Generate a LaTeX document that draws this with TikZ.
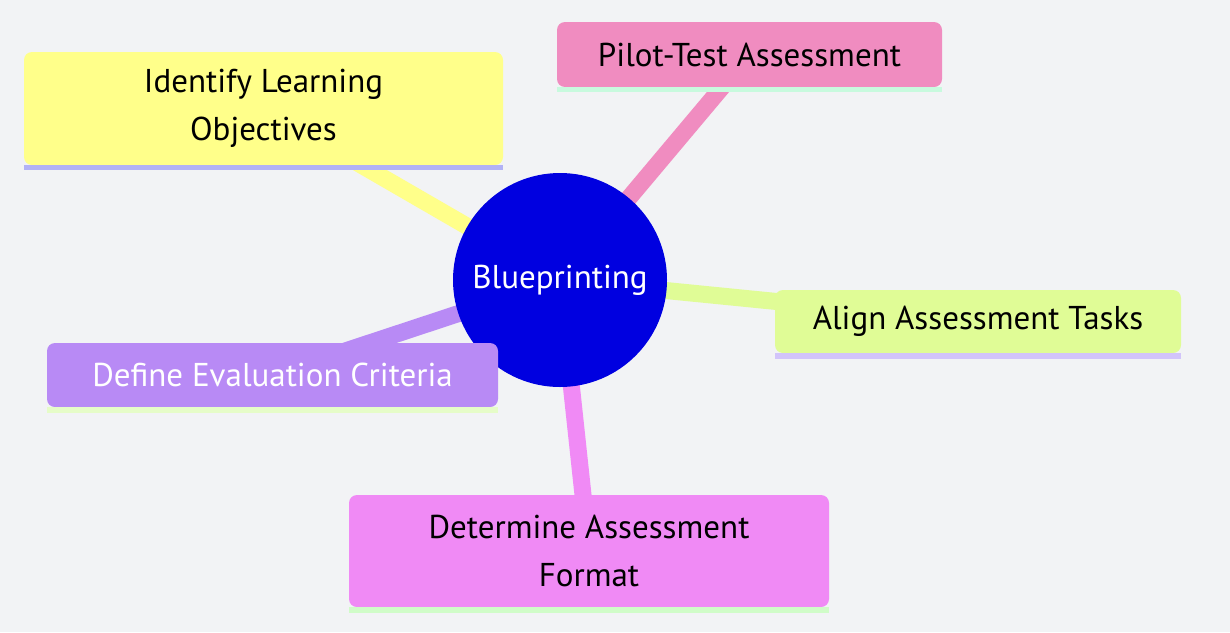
\documentclass[tikz,border=0pt]{standalone}
\usepackage{fontspec}
\setmainfont{PT Sans}
\pgfdeclarelayer{back}
\pgfdeclarelayer{edges}
\pgfsetlayers{back,edges,main}
\definecolor{canvas}{RGB}{242,243,245}
\definecolor{rootblue}{RGB}{0,0,224}
\definecolor{yelfill}{RGB}{255,255,138}
\definecolor{yelbar}{RGB}{178,178,245}
\definecolor{pinkfill}{RGB}{240,140,192}
\definecolor{pinkbar}{RGB}{200,250,222}
\definecolor{limefill}{RGB}{224,252,150}
\definecolor{limebar}{RGB}{210,196,250}
\definecolor{violetfill}{RGB}{184,138,245}
\definecolor{violetbar}{RGB}{230,252,200}
\definecolor{magfill}{RGB}{240,138,245}
\definecolor{magbar}{RGB}{208,252,200}
\tikzset{
  topic/.style={rounded corners=8pt, inner sep=0pt, align=center,
    font=\fontsize{33}{48}\selectfont},
  branch/.style={line width=17pt},
}
\begin{document}
\begin{tikzpicture}[x=1pt,y=-1pt]
\begin{pgfonlayer}{back}
  \fill[canvas] (0,0) rectangle (1230,632);
\end{pgfonlayer}
\useasboundingbox (0,0) rectangle (1230,632);

% central topic
\node[circle, fill=rootblue, minimum size=214pt, inner sep=0pt, text=white,
      font=\fontsize{33}{40}\selectfont] (root) at (560,280) {Blueprinting};

% branch topics
\node[topic, fill=yelfill, minimum width=479pt, minimum height=113pt] (obj) at (263.5,108.5)
  {Identify Learning\\Objectives};
\node[topic, fill=pinkfill, minimum width=385pt, minimum height=65pt] (pilot) at (749.5,54.5)
  {Pilot-Test Assessment};
\node[topic, fill=limefill, minimum width=406pt, minimum height=63pt] (align) at (978,321.5)
  {Align Assessment Tasks};
\node[topic, fill=violetfill, text=white, minimum width=451pt, minimum height=64pt] (crit) at (272.5,375)
  {Define Evaluation Criteria};
\node[topic, fill=magfill, minimum width=480pt, minimum height=112pt] (fmt) at (589,551)
  {Determine Assessment\\Format};

% underline bars
\fill[yelbar] (obj.south west) rectangle ([yshift=-5pt]obj.south east);
\fill[pinkbar] (pilot.south west) rectangle ([yshift=-5pt]pilot.south east);
\fill[limebar] (align.south west) rectangle ([yshift=-6pt]align.south east);
\fill[violetbar] (crit.south west) rectangle ([yshift=-6pt]crit.south east);
\fill[magbar] (fmt.south west) rectangle ([yshift=-6pt]fmt.south east);

% connectors
\begin{pgfonlayer}{edges}
  \draw[branch, yelfill] (root.center) -- (obj.center);
  \draw[branch, pinkfill] (root.center) -- (pilot.center);
  \draw[branch, limefill] (root.center) -- (align.center);
  \draw[branch, violetfill] (root.center) -- (crit.center);
  \draw[branch, magfill] (root.center) -- (fmt.center);
\end{pgfonlayer}
\end{tikzpicture}
\end{document}
